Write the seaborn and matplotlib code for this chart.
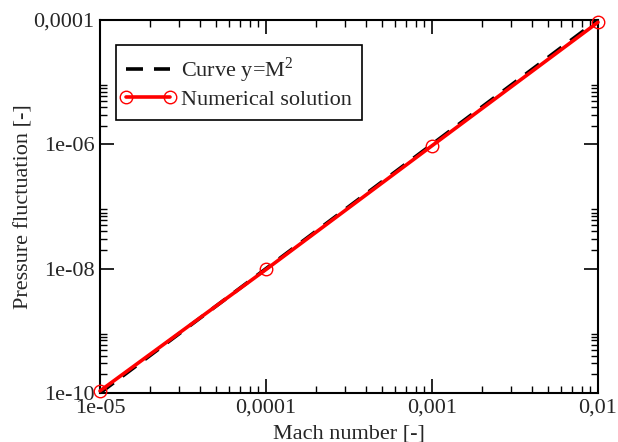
import numpy as np
import pandas as pd
import matplotlib
matplotlib.use("Agg")
import matplotlib.pyplot as plt
import seaborn as sns
from matplotlib.lines import Line2D
from matplotlib.legend_handler import HandlerLine2D
from matplotlib.ticker import FixedLocator, FixedFormatter, NullFormatter

mach = [1e-5, 1e-4, 1e-3, 1e-2]
numerical = [1.08e-10, 9.7e-9, 9.5e-7, 9.2e-5]
curve_x = [1e-5, 1e-4, 1e-3, 1e-2]
curve_y = [1e-10, 1e-8, 1e-6, 1e-4]
xticks = [1e-5, 1e-4, 1e-3, 1e-2]
xticklabels = ["1e-05", "0,0001", "0,001", "0,01"]
yticks = [1e-10, 1e-8, 1e-6, 1e-4]
yticklabels = ["1e-10", "1e-08", "1e-06", "0,0001"]

sns.set_style("ticks")
plt.rcParams['font.family'] = ['Liberation Serif', 'DejaVu Serif']
plt.rcParams['mathtext.fontset'] = 'custom'
plt.rcParams['mathtext.rm'] = 'Liberation Serif'

fig = plt.figure(figsize=(6.18, 4.42), dpi=100)
ax = fig.add_axes([100/618, 1-393/442, 498/618, 373/442])

df_curve = pd.DataFrame({"x": curve_x, "y": curve_y})
df_num = pd.DataFrame({"x": mach, "y": numerical})

sns.lineplot(data=df_curve, x="x", y="y", ax=ax, color="black", lw=2.6,
             linestyle=(0, (4.7, 3.05)), label="Curve y=M$^\\mathrm{2}$", zorder=2)
sns.lineplot(data=df_num, x="x", y="y", ax=ax, color="red", lw=2.6,
             marker="o", markersize=9, markerfacecolor="none",
             markeredgecolor="red", markeredgewidth=1.0,
             label="Numerical solution", zorder=3)
ax.lines[-1].set_clip_on(False)

ax.set_xscale("log")
ax.set_yscale("log")
ax.set_xlim(1e-5, 1e-2)
ax.set_ylim(1e-10, 1e-4)

ax.xaxis.set_major_locator(FixedLocator(xticks))
ax.xaxis.set_major_formatter(FixedFormatter(xticklabels))
xminor = [k * d for d in [1e-5, 1e-4, 1e-3] for k in range(2, 10)]
ax.xaxis.set_minor_locator(FixedLocator(xminor))
ax.xaxis.set_minor_formatter(NullFormatter())

ax.yaxis.set_major_locator(FixedLocator(yticks))
ax.yaxis.set_major_formatter(FixedFormatter(yticklabels))
yminor = [k * d for d in [1e-10, 1e-8, 1e-6] for k in range(2, 10)]
ax.yaxis.set_minor_locator(FixedLocator(yminor))
ax.yaxis.set_minor_formatter(NullFormatter())

ax.tick_params(which="both", direction="in", top=True, right=True, color="black")
ax.tick_params(which="major", length=10, width=1.2, labelsize=16, pad=4)
ax.tick_params(which="minor", length=5, width=1.0)
for s in ax.spines.values():
    s.set_color("black")
    s.set_linewidth(1.5)

ax.set_xlabel("Mach number [-]", fontsize=16, labelpad=5)
ax.set_ylabel("Pressure fluctuation [-]", fontsize=16, labelpad=0)

leg = ax.legend(loc="upper left", bbox_to_anchor=(0.032, 0.932), fontsize=16,
                frameon=True, fancybox=False, framealpha=1, edgecolor="black",
                handlelength=2.0, numpoints=2, borderpad=0.45, labelspacing=0.2,
                handletextpad=0.5, borderaxespad=0,
                handler_map={Line2D: HandlerLine2D(marker_pad=0)})
leg.get_frame().set_linewidth(1.2)

fig.savefig("out.png", dpi=100)
